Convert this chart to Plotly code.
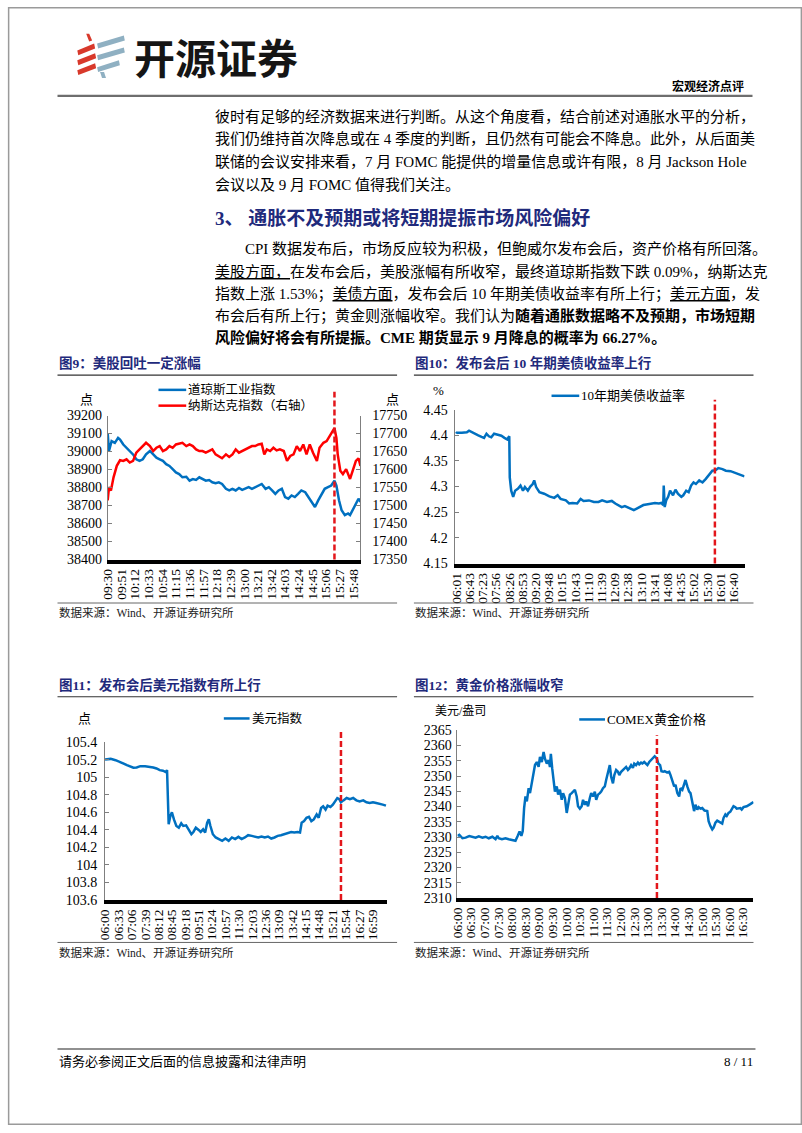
import plotly.graph_objects as go
import numpy as np

W, H = 802, 1133
def px(x): return x / W
def py(y): return 1 - y / H

def tmin(s):
    h, m = s.split(":")
    return int(h) * 60 + int(m)

SERIF = "Liberation Serif, Noto Sans CJK SC"
NAVY = "#1F2A7C"
BLUE = "#0070C0"
RED = "#FF0000"
DASHRED = "#E3161B"

# ---------------- 图9 美股 ----------------
c9_ticks = ["09:30","09:51","10:12","10:33","10:54","11:15","11:36","11:57","12:18","12:39",
            "13:00","13:21","13:42","14:03","14:24","14:45","15:06","15:27","15:48"]
dj_time = ["09:30","09:32","09:36","09:41","09:46","09:49","09:54","09:59","10:04","10:09",
           "10:14","10:19","10:24","10:29","10:35","10:40","10:45","10:50","10:55","11:00",
           "11:05","11:10","11:15","11:20","11:25","11:31","11:36","11:41","11:46","11:51",
           "11:56","12:01","12:06","12:11","12:16","12:21","12:26","12:32","12:37","12:42",
           "12:47","12:52","12:57","13:02","13:07","13:12","13:17","13:22","13:27","13:33",
           "13:38","13:43","13:48","13:53","13:58","14:03","14:08","14:13","14:18","14:23",
           "14:28","14:34","14:39","14:44","14:49","14:54","14:59","15:04","15:09","15:14",
           "15:19","15:22","15:26","15:30","15:35","15:40","15:43","15:47","15:52","15:56","15:59"]
dj_val = [39103,39003,39058,39048,39076,39067,39039,39021,39003,38984,
          38957,38948,38957,38984,39003,38984,38966,38957,38948,38930,
          38920,38902,38884,38875,38857,38860,38838,38847,38842,38857,
          38847,38838,38842,38829,38824,38829,38820,38793,38784,38793,
          38784,38798,38787,38793,38802,38793,38802,38811,38820,38793,
          38802,38784,38765,38784,38793,38747,38738,38756,38747,38765,
          38784,38774,38747,38720,38692,38729,38765,38793,38802,38811,
          38838,38811,38729,38674,38647,38656,38647,38674,38711,38738,38720]
nq_time = ["09:30","09:32","09:35","09:39","09:44",
           "09:49","09:54","09:59","10:04","10:09","10:14","10:19","10:24","10:29","10:35",
           "10:40","10:45","10:50","10:55","11:00","11:05","11:10","11:15","11:20","11:25",
           "11:31","11:36","11:41","11:46","11:51","11:56","12:01","12:06","12:11","12:16",
           "12:21","12:26","12:32","12:37","12:42","12:47","12:52","12:57","13:02","13:07",
           "13:12","13:17","13:22","13:27",
           "13:31","13:35",
           "13:40","13:45","13:50","13:55","14:01","14:06","14:11","14:16","14:21","14:26",
           "14:31","14:36","14:41","14:46",
           "14:52","14:56",
           "15:02","15:07","15:12","15:17",
           "15:19","15:22","15:24","15:28","15:32","15:37","15:40","15:43","15:47","15:52","15:56","15:59"]
nq_val = [17514.4,17550.9,17541.8,17578.3,17610.3,
          17625.8,17624.0,17628.5,17619.4,17624.0,17646.8,17655.9,17665.1,17674.2,17665.1,
          17651.4,17660.5,17665.1,17651.4,17655.9,17665.1,17660.5,17669.6,17671.5,17674.2,
          17665.1,17669.6,17665.1,17655.9,17651.4,17651.4,17646.8,17651.4,17655.9,17642.2,
          17637.7,17631.3,17642.2,17634.9,17642.2,17655.9,17646.8,17651.4,17655.9,17660.5,
          17665.1,17665.1,17669.6,17671.5,
          17642.2,17655.9,
          17651.4,17660.5,17653.2,17655.9,17651.4,17624.0,17637.7,17642.2,17665.1,17651.4,
          17669.6,17642.2,17669.6,17646.8,
          17624.0,17660.5,
          17674.2,17678.8,17692.5,17706.2,
          17715.3,17687.9,17642.2,17596.6,17587.5,17601.1,17587.5,17573.8,17596.6,17624.0,17631.3,17610.3]
c9_vline = "15:19"
c9_left_ticks = [38400,38500,38600,38700,38800,38900,39000,39100,39200]
c9_right_ticks = [17350,17400,17450,17500,17550,17600,17650,17700,17750]

# ---------------- 图10 10年期美债 ----------------
c10_ticks = ["06:01","06:43","07:23","07:56","08:26","08:53","09:20","09:48","10:15","10:43","11:10",
             "11:39","12:09","12:38","13:10","13:41","14:08","14:35","15:02","15:30","16:01","16:40"]
ust_time = ["06:00","06:02","06:18","06:34","06:41","06:49","06:59","07:09","07:19","07:26",
            "07:32","07:38","07:44","07:51","08:00","08:08","08:15","08:21","08:26","08:27",
            "08:30","08:34","08:38","08:44","08:49","08:54","08:58","09:04","09:09","09:14",
            "09:17","09:21","09:28","09:38","09:49","09:59","10:06","10:12","10:23","10:30",
            "10:37","10:47","10:54","11:00","11:11","11:22","11:32","11:40","11:51","12:02",
            "12:10","12:17","12:24","12:31","12:39","12:47","12:52","12:59","13:07","13:15",
            "13:22","13:34","13:42","13:50","13:55","13:59","14:00","14:02","14:05","14:09",
            "14:13","14:19","14:24","14:29","14:36","14:40","14:46","14:51","14:56","15:01",
            "15:06","15:13","15:20","15:27","15:35","15:42","15:50","15:56","16:07","16:17",
            "16:31","16:46","17:01","17:12"]
ust_val = [4.403,4.405,4.405,4.406,4.409,4.406,4.403,4.400,4.397,4.395,
           4.403,4.398,4.396,4.403,4.401,4.399,4.395,4.392,4.398,4.318,
           4.292,4.280,4.292,4.296,4.302,4.292,4.299,4.292,4.300,4.305,
           4.312,4.299,4.289,4.286,4.281,4.278,4.283,4.276,4.273,4.267,
           4.268,4.267,4.276,4.272,4.273,4.270,4.270,4.273,4.270,4.272,
           4.267,4.264,4.260,4.262,4.259,4.257,4.254,4.257,4.260,4.264,
           4.265,4.267,4.268,4.267,4.268,4.264,4.302,4.260,4.273,4.280,
           4.292,4.283,4.294,4.286,4.280,4.283,4.292,4.289,4.302,4.308,
           4.305,4.312,4.308,4.315,4.324,4.331,4.332,4.336,4.334,4.331,
           4.330,4.326,4.322,4.320]
c10_vline = "15:48"
c10_yticks = [4.15, 4.2, 4.25, 4.3, 4.35, 4.4, 4.45]
c10_ytext = ["4.15", "4.2", "4.25", "4.3", "4.35", "4.4", "4.45"]

# ---------------- 图11 美元指数 ----------------
c11_ticks = ["06:00","06:33","07:06","07:39","08:12","08:45","09:18","09:51","10:24","10:57","11:30",
             "12:03","12:36","13:09","13:42","14:15","14:48","15:21","15:54","16:27","16:59"]
dxy_time = ["06:00","06:14","06:26","06:38","06:46","06:54","07:02","07:10","07:18","07:27",
            "07:39","07:51","07:59","08:07","08:15","08:23","08:30","08:33","08:35","08:37",
            "08:41","08:45","08:50","08:56","09:02","09:08","09:13","09:20","09:26","09:33",
            "09:38","09:44","09:51","09:56","10:02","10:07","10:12","10:16","10:20","10:26",
            "10:33","10:41","10:49","10:57","11:05","11:13","11:21","11:29","11:37","11:45",
            "11:53","12:02","12:10","12:18","12:26","12:34","12:42","12:50","12:58","13:06",
            "13:14","13:22","13:30","13:39","13:47","13:55","14:01","14:05","14:11","14:17",
            "14:23","14:29","14:35","14:42","14:47","14:53","14:58","15:04","15:09","15:16",
            "15:22","15:28","15:33","15:38","15:42","15:48","15:56","16:04","16:12","16:20",
            "16:28","16:37","16:45","16:53","17:01","17:09","17:17","17:25","17:33"]
dxy_val = [105.201,105.209,105.194,105.175,105.156,105.138,105.126,105.108,105.111,105.126,
           105.126,105.119,105.111,105.100,105.081,105.074,105.059,105.081,104.631,104.463,
           104.556,104.601,104.519,104.444,104.425,104.474,104.444,104.451,104.406,104.350,
           104.376,104.425,104.399,104.376,104.406,104.369,104.481,104.519,104.444,104.350,
           104.313,104.294,104.275,104.301,104.275,104.313,104.294,104.320,104.294,104.313,
           104.339,104.331,104.324,104.313,104.324,104.313,104.324,104.301,104.313,104.331,
           104.339,104.350,104.361,104.376,104.369,104.376,104.369,104.481,104.500,104.538,
           104.549,104.500,104.519,104.575,104.538,104.650,104.669,104.631,104.676,104.661,
           104.688,104.725,104.763,104.751,104.714,104.736,104.763,104.751,104.763,104.736,
           104.725,104.736,104.714,104.706,104.714,104.706,104.699,104.688,104.676]
c11_vline = "15:42"
c11_yticks = [103.6, 103.8, 104.0, 104.2, 104.4, 104.6, 104.8, 105.0, 105.2, 105.4]
c11_ytext = ["103.6", "103.8", "104", "104.2", "104.4", "104.6", "104.8", "105", "105.2", "105.4"]

# ---------------- 图12 COMEX黄金 ----------------
c12_ticks = ["06:00","06:30","07:00","07:30","08:00","08:30","09:00","09:30","10:00","10:30","11:00",
             "11:30","12:00","12:30","13:00","13:30","14:00","14:30","15:00","15:30","16:00","16:30"]
gold_time = ["06:00","06:04","06:11","06:18","06:26","06:33","06:40","06:47","06:55","07:02",
             "07:09","07:17","07:24","07:28","07:31","07:38","07:46","07:53","08:00","08:08",
             "08:13","08:17","08:21","08:24","08:27","08:30","08:33","08:37","08:40","08:44",
             "08:48","08:51","08:55","08:59","09:02","09:06","09:10","09:13","09:17","09:21",
             "09:24","09:26","09:29","09:32","09:35","09:39","09:42","09:46","09:50","09:53",
             "09:57","10:01","10:04","10:08","10:12","10:15","10:19","10:23","10:26","10:30",
             "10:34","10:37","10:41","10:44","10:48","10:52","10:55","10:59","11:03","11:06",
             "11:10","11:14","11:17","11:21","11:25","11:28","11:32","11:36","11:39","11:43",
             "11:46","11:50","11:54","11:57","12:01","12:05","12:08","12:12","12:16","12:19",
             "12:23","12:27","12:30","12:34","12:38","12:41","12:45","12:48","12:52","12:56",
             "12:59","13:03","13:07","13:10","13:15","13:20","13:23","13:27","13:30","13:34",
             "13:37","13:42","13:47","13:50","13:54","13:58","14:01","14:05","14:09","14:12",
             "14:16","14:20","14:23","14:27","14:31","14:34","14:38","14:42","14:45","14:49",
             "14:52","14:56","15:00","15:05","15:11","15:14","15:18","15:22","15:25","15:29",
             "15:33","15:36","15:40","15:44","15:47","15:51","15:54","15:58","16:02","16:05",
             "16:09","16:13","16:16","16:24","16:27","16:31","16:38","16:46","16:53"]
gold_val = [2330.4,2330.7,2329.6,2329.8,2330.3,2330.1,2329.8,2330.2,2329.8,2330.1,
            2329.6,2330.1,2329.3,2330.4,2329.6,2329.3,2329.6,2329.3,2329.1,2328.8,
            2330.4,2331.8,2330.4,2332.0,2339.5,2343.3,2341.7,2346.0,2344.4,2348.2,
            2351.4,2353.6,2354.6,2353.0,2356.3,2354.6,2357.9,2355.7,2354.1,2355.2,
            2353.0,2357.3,2352.5,2348.2,2344.9,2346.6,2343.9,2345.5,2342.2,2344.4,
            2342.8,2337.9,2341.2,2343.9,2344.4,2344.9,2345.5,2343.3,2340.1,2339.3,
            2340.1,2342.2,2340.6,2341.7,2340.1,2342.8,2344.4,2343.3,2344.9,2342.2,
            2343.9,2344.4,2344.9,2346.0,2346.6,2348.7,2351.4,2353.6,2349.8,2347.6,
            2350.3,2352.0,2351.4,2350.3,2351.4,2352.0,2352.5,2353.0,2352.0,2352.5,
            2353.6,2352.7,2354.1,2353.6,2354.4,2353.8,2354.4,2354.1,2354.6,2353.8,
            2353.6,2354.6,2355.2,2355.7,2356.5,2355.7,2354.1,2353.6,2351.6,2351.4,
            2351.6,2351.2,2351.4,2350.3,2348.7,2346.6,2347.1,2344.4,2343.3,2346.0,
            2345.5,2347.6,2348.7,2346.6,2344.9,2344.4,2341.2,2338.5,2340.6,2339.0,
            2339.8,2339.3,2339.5,2338.7,2338.5,2335.2,2333.6,2332.5,2333.1,2334.7,
            2335.4,2335.2,2334.7,2334.4,2336.3,2337.4,2336.9,2337.9,2338.3,2339.0,
            2340.1,2339.8,2339.3,2339.5,2339.0,2339.8,2340.1,2340.8,2341.5]
c12_vline = "13:20"
c12_yticks = [2310,2315,2320,2325,2330,2335,2340,2345,2350,2355,2360,2365]

# ---------------- text ----------------
para1 = ["彼时有足够的经济数据来进行判断。从这个角度看，结合前述对通胀水平的分析，",
         "我们仍维持首次降息或在 4 季度的判断，且仍然有可能会不降息。此外，从后面美",
         "联储的会议安排来看，7 月 FOMC 能提供的增量信息或许有限，8 月 Jackson Hole",
         "会议以及 9 月 FOMC 值得我们关注。"]
heading = "3、 通胀不及预期或将短期提振市场风险偏好"
para2 = ["CPI 数据发布后，市场反应较为积极，但鲍威尔发布会后，资产价格有所回落。",
         "<u>美股方面，</u>在发布会后，美股涨幅有所收窄，最终道琼斯指数下跌 0.09%，纳斯达克",
         "指数上涨 1.53%；<u>美债方面</u>，发布会后 10 年期美债收益率有所上行；<u>美元方面</u>，发",
         "布会后有所上行；黄金则涨幅收窄。我们认为<b>随着通胀数据略不及预期，市场短期</b>",
         "<b>风险偏好将会有所提振。CME 期货显示 9 月降息的概率为 66.27%。</b>"]
source = "数据来源：Wind、开源证券研究所"

# ---------------- helpers ----------------
def rel_min(times, base):
    b = tmin(base)
    return [tmin(t) - b for t in times]

def cat_pos(times, ticks):
    tm = np.array([tmin(t) for t in ticks], float)
    idx = np.arange(len(ticks), dtype=float)
    m = np.array([tmin(t) for t in times], float)
    p = np.interp(m, tm, idx)
    lo = m < tm[0]
    hi = m > tm[-1]
    p[lo] = (m[lo] - tm[0]) / (tm[1] - tm[0])
    p[hi] = idx[-1] + (m[hi] - tm[-1]) / (tm[-1] - tm[-2])
    return p

tickfont = dict(family=SERIF, size=14, color="black")

def xax(x0, x1, anchor, rng, tv, tt):
    return dict(domain=[px(x0), px(x1)], anchor=anchor, range=rng, tickvals=tv, ticktext=tt,
                tickangle=-90, showline=True, linecolor="black", linewidth=4, ticks="",
                showgrid=False, zeroline=False, tickfont=dict(family=SERIF, size=13.5, color="black"),
                fixedrange=True)

def yax(y0, y1, anchor, rng, tv, tt, side="left", overlay=None, standoff=2):
    d = dict(domain=[py(y1), py(y0)], anchor=anchor, range=rng, tickvals=tv, ticktext=tt,
             showline=True, linecolor="#7f7f7f", linewidth=1, ticks="inside", ticklen=4,
             tickcolor="#7f7f7f", showgrid=False, zeroline=False, tickfont=tickfont, side=side,
             fixedrange=True, ticklabelstandoff=standoff)
    if overlay:
        d["overlaying"] = overlay
    return d

fig = go.Figure()

# chart 9
fig.add_trace(go.Scatter(x=rel_min(dj_time, c9_ticks[0]), y=dj_val, mode="lines",
                         line=dict(color=BLUE, width=2.5), xaxis="x", yaxis="y", hoverinfo="skip"))
fig.add_trace(go.Scatter(x=rel_min(nq_time, c9_ticks[0]), y=nq_val, mode="lines",
                         line=dict(color=RED, width=2.5), xaxis="x", yaxis="y2", hoverinfo="skip"))
# chart 10
fig.add_trace(go.Scatter(x=cat_pos(ust_time, c10_ticks), y=ust_val, mode="lines",
                         line=dict(color=BLUE, width=2.5), xaxis="x2", yaxis="y3", hoverinfo="skip"))
# chart 11
fig.add_trace(go.Scatter(x=rel_min(dxy_time, c11_ticks[0]), y=dxy_val, mode="lines",
                         line=dict(color=BLUE, width=2.5), xaxis="x3", yaxis="y4", hoverinfo="skip"))
# chart 12
fig.add_trace(go.Scatter(x=rel_min(gold_time, c12_ticks[0]), y=gold_val, mode="lines",
                         line=dict(color=BLUE, width=2.5), xaxis="x4", yaxis="y5", hoverinfo="skip"))

layout = dict(
    width=W, height=H, margin=dict(l=0, r=0, t=0, b=0),
    paper_bgcolor="white", plot_bgcolor="white", showlegend=False,
    xaxis=xax(100.7, 356, "y", [0, 389], rel_min(c9_ticks, c9_ticks[0]), c9_ticks),
    yaxis=yax(414, 560, "x", [38400, 39200], c9_left_ticks, [str(v) for v in c9_left_ticks]),
    yaxis2=yax(414, 560, "x", [17350, 17750], c9_right_ticks, [str(v) for v in c9_right_ticks],
               side="right", overlay="y", standoff=8),
    xaxis2=xax(451, 744, "y3", [-0.15, 21.83], list(range(len(c10_ticks))), c10_ticks),
    yaxis3=yax(408, 564, "x2", [4.15, 4.45], c10_yticks, c10_ytext, standoff=3),
    xaxis3=xax(98, 383, "y4", [0, 696], rel_min(c11_ticks, c11_ticks[0]), c11_ticks),
    yaxis4=yax(745, 905, "x3", [103.6, 105.4], c11_yticks, c11_ytext, standoff=4),
    xaxis4=xax(454, 753, "y5", [0, 653], rel_min(c12_ticks, c12_ticks[0]), c12_ticks),
    yaxis5=yax(733, 903, "x4", [2310, 2365], c12_yticks, [str(v) for v in c12_yticks]),
)
fig.update_layout(**layout)

shapes = []
anns = []
PAD = 3  # annotation box padding compensation

def hline(x0, x1, y, color, width):
    shapes.append(dict(type="line", xref="paper", yref="paper", x0=px(x0), x1=px(x1),
                       y0=py(y), y1=py(y), line=dict(color=color, width=width)))

def text(s, x, y, size, color="black", xanchor="left", family=SERIF, bold=False):
    if bold:
        s = "<b>" + s + "</b>"
    if xanchor == "left":
        x -= PAD
    elif xanchor == "right":
        x += PAD
    anns.append(dict(text=s, x=px(x), y=py(y), xref="paper", yref="paper", xanchor=xanchor,
                     yanchor="middle", showarrow=False, font=dict(family=family, size=size, color=color)))

def poly(pts, color):
    p = "M " + " L ".join(f"{px(a):.5f},{py(b):.5f}" for a, b in pts) + " Z"
    shapes.append(dict(type="path", xref="paper", yref="paper", path=p,
                       fillcolor=color, line=dict(width=0)))

# page frame
shapes.append(dict(type="rect", xref="paper", yref="paper", x0=0.0008, x1=0.9992, y0=0.0006, y1=0.9994,
                   line=dict(color="#9a9a9a", width=1.5)))

# logo
LR, LG = "#D8392B", "#8FB0C2"
poly([(79, 27), (82, 27), (85, 34), (82, 35)], LR)
poly([(70, 44), (87, 37), (88, 42), (71, 49)], LR)
poly([(70, 54), (88, 47), (89, 52), (71, 59)], LR)
poly([(70, 64), (88, 57), (89, 62), (71, 69)], LR)
poly([(90, 37), (117, 29), (118, 34), (91, 42)], LG)
poly([(90, 49), (117, 41), (118, 46), (91, 54)], LG)
poly([(90, 61), (112, 54), (113, 59), (91, 66)], LG)
poly([(93, 66), (97, 66), (99, 72), (95, 72)], LG)
text("开源证券", 128, 50, 41, "#151515", family="Noto Sans CJK SC", bold=True)
text("宏观经济点评", 742, 81, 12, "black", xanchor="right", bold=True)
hline(50, 752, 90, "#6e6e6e", 2.2)

# body text
for i, s in enumerate(para1):
    text(s, 210, 111 + 23 * i, 15)
text(heading, 210, 214, 19, NAVY, bold=True)
p2y = [245, 268, 291, 313, 335]
for i, s in enumerate(para2):
    text(s, 240 if i == 0 else 210, p2y[i], 15)

# chart frames: titles, rules, sources
for (x0, x1, ty, sy, title) in [(50, 393, 361, 604, "图9：美股回吐一定涨幅"),
                                (410, 753, 361, 604, "图10：发布会后 10 年期美债收益率上行"),
                                (50, 393, 687, 948, "图11：发布会后美元指数有所上行"),
                                (410, 753, 687, 948, "图12：黄金价格涨幅收窄")]:
    text(title, x0 + 2, ty, 13.5, NAVY, bold=True)
    hline(x0, x1, ty + 12, "#333333", 1.2)
    hline(x0, x1, sy, "#666666", 1)
    text(source, x0 + 2, sy + 10, 11.5, "#222222")

# legends & units
def legend(x0, x1, y, color, label, size=12.5):
    hline(x0, x1, y, color, 2.5)
    text(label, x1 + 3, y, size)

legend(152, 180, 388, BLUE, "道琼斯工业指数")
legend(152, 180, 404, RED, "纳斯达克指数（右轴）")
text("点", 79, 398, 13, xanchor="center")
text("点", 388, 398, 13, xanchor="center")
legend(549, 577, 394, BLUE, "10年期美债收益率", 13)
text("%", 435, 389, 13, xanchor="center")
legend(218, 244, 721, BLUE, "美元指数", 12.5)
text("点", 77, 721, 13, xanchor="center")
legend(577, 603, 722, BLUE, "COMEX黄金价格", 13)
text("美元/盎司", 432, 713, 12)

# event lines (press conference)
def vline(xref, xval, y0, y1):
    shapes.append(dict(type="line", xref=xref, yref="paper", x0=xval, x1=xval, y0=py(y1), y1=py(y0),
                       line=dict(color=DASHRED, width=2.5, dash="6px,3px")))

vline("x", rel_min([c9_vline], c9_ticks[0])[0], 390, 560)
vline("x2", float(cat_pos([c10_vline], c10_ticks)[0]), 398, 564)
vline("x3", rel_min([c11_vline], c11_ticks[0])[0], 733, 905)
vline("x4", rel_min([c12_vline], c12_ticks[0])[0], 738, 903)

# footer
hline(50, 755, 1056, "#222222", 1.2)
text("请务必参阅正文后面的信息披露和法律声明", 52, 1069, 13)
text("8 / 11", 752, 1069, 13, xanchor="right")

fig.update_layout(shapes=shapes, annotations=anns)
fig.write_html("out.html", post_script="document.body.style.margin='0';")
